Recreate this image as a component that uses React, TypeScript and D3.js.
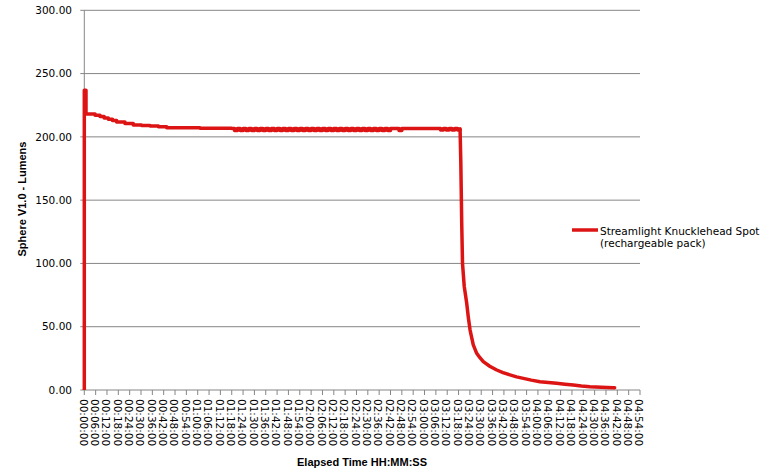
import React from "react";
import * as d3 from "d3";

// Output over elapsed time (minutes) for one light
const elapsedMin: number[] = [
  0, 0, 0.9, 5.7, 8.3, 10.5, 12.7, 14.9, 17.1, 21.5, 25.9, 30.3, 34.8, 39.2, 43.6, 61.2,
  78, 79.5, 81, 82.5, 84, 85.5, 87, 88.5, 90, 91.5, 93, 94.5, 96, 97.5, 99, 100.5,
  102, 103.5, 105, 106.5, 108, 109.5, 111, 112.5, 114, 115.5, 117, 118.5, 120, 121.5,
  123, 124.5, 126, 127.5, 129, 130.5, 132, 133.5, 135, 136.5, 138, 139.5, 141, 142.5,
  144, 145.5, 147, 148.5, 150, 151.5, 153, 154.5, 156, 157.5, 159, 160.5, 162,
  165, 166.5, 168, 180, 187, 188.5, 190, 191.5, 193, 194.5, 196, 197.5,
  198.8, 199.2, 199.7, 200.1, 201.0, 202.3, 203.2, 204.1, 205.8, 207.6,
  209.3, 211.1, 214.5, 218.2, 221.5, 225.2, 228.7, 232.3, 236.5, 241.1,
  245.5, 249.9, 254.3, 258.7, 263.0, 267.5, 273.5, 279.9, 280.6,
];
const lumens: number[] = [
  0, 236.9, 218, 217, 216, 215, 214, 213, 211.7, 210.5, 209.4, 209.0, 208.6, 208.0, 207.2, 206.9,
  206.6, 205.0, 206.6, 205.0, 206.6, 205.0, 206.6, 205.0, 206.6, 205.0, 206.6, 205.0, 206.6, 205.0, 206.6, 205.0,
  206.6, 205.0, 206.6, 205.0, 206.6, 205.0, 206.6, 205.0, 206.6, 205.0, 206.6, 205.0, 206.6, 205.0,
  206.6, 205.0, 206.6, 205.0, 206.6, 205.0, 206.6, 205.0, 206.6, 205.0, 206.6, 205.0, 206.6, 205.0,
  206.6, 205.0, 206.6, 205.0, 206.6, 205.0, 206.6, 205.0, 206.6, 205.0, 206.6, 205.0, 206.6,
  206.6, 205.0, 206.6, 206.6, 206.6, 205.4, 206.6, 205.4, 206.6, 205.4, 206.6, 205.4,
  206.5, 180, 130, 100, 82, 68.7, 57, 47.4, 35.6, 29.0,
  25.5, 22.4, 18.8, 15.8, 13.8, 11.9, 10.4, 9.2, 7.8, 6.5,
  6.0, 5.3, 4.6, 3.95, 3.2, 2.6, 2.2, 1.8, 1.8,
];
// The regulated phase logs quantised readings; after this point output decays continuously
const dropStartMin = 198.8;

const yTicks: number[] = [0, 50, 100, 150, 200, 250, 300];
// Category ticks every 6 minutes from 00:00:00 to 04:54:00
const xTickMinutes: number[] = d3.range(0, 295, 6);
const xTickLabels: string[] = xTickMinutes.map((m) => {
  const h = Math.floor(m / 60);
  const mm = m % 60;
  return `${String(h).padStart(2, "0")}:${String(mm).padStart(2, "0")}:00`;
});

const seriesName1 = "Streamlight Knucklehead Spot";
const seriesName2 = "(rechargeable pack)";
const xTitle = "Elapsed Time HH:MM:SS";
const yTitle = "Sphere V1.0 - Lumens";

const W = 770;
const H = 474;
const plot = { left: 84.3, right: 640, top: 10.3, bottom: 390 };
const gridColor = "#868686";
const lineColor = "#dc1414";
const tickFont = "'DejaVu Sans', sans-serif";
const titleFont = "'Liberation Sans', Arial, sans-serif";

export default function App() {
  const x = d3.scaleLinear().domain([0, 294]).range([plot.left, plot.right]);
  const y = d3.scaleLinear().domain([0, 300]).range([plot.bottom, plot.top]);

  const points: [number, number][] = elapsedMin.map((t, i) => [t, lumens[i]]);
  const plateau = points.filter((d) => d[0] <= dropStartMin);
  const decay = points.filter((d) => d[0] >= dropStartMin);

  const stepLine = d3
    .line<[number, number]>()
    .x((d) => x(d[0]))
    .y((d) => y(d[1]))
    .curve(d3.curveStepAfter);
  const smoothLine = d3
    .line<[number, number]>()
    .x((d) => x(d[0]))
    .y((d) => y(d[1]));

  return (
    <svg
      width={W}
      height={H}
      style={{ position: "absolute", left: 0, top: 0, background: "#fff" }}
    >
      {/* horizontal gridlines and y labels */}
      {yTicks.map((v) => (
        <g key={v}>
          <line
            x1={plot.left - 4}
            x2={plot.right}
            y1={y(v)}
            y2={y(v)}
            stroke={gridColor}
            strokeWidth={1}
          />
          <text
            x={72}
            y={y(v)}
            dy="0.36em"
            textAnchor="end"
            fontFamily={tickFont}
            fontSize={10.5}
            fill="#000"
          >
            {v.toFixed(2)}
          </text>
        </g>
      ))}

      {/* y axis line */}
      <line
        x1={plot.left}
        x2={plot.left}
        y1={plot.top}
        y2={plot.bottom}
        stroke={gridColor}
        strokeWidth={1}
      />

      {/* x axis ticks and rotated labels */}
      {xTickMinutes.map((m, i) => (
        <g key={m}>
          <line
            x1={x(m)}
            x2={x(m)}
            y1={plot.bottom}
            y2={plot.bottom + 5}
            stroke={gridColor}
            strokeWidth={1}
          />
          <text
            transform={`translate(${x(m) - 1},${plot.bottom + 9}) rotate(90)`}
            dy="0.36em"
            textAnchor="start"
            fontFamily={tickFont}
            fontSize={10.5}
            fill="#000"
          >
            {xTickLabels[i]}
          </text>
        </g>
      ))}

      {/* data line */}
      <path
        d={stepLine(plateau) ?? ""}
        fill="none"
        stroke={lineColor}
        strokeWidth={3.5}
        strokeLinejoin="round"
        strokeLinecap="butt"
      />
      <path
        d={smoothLine(decay) ?? ""}
        fill="none"
        stroke={lineColor}
        strokeWidth={3.5}
        strokeLinejoin="round"
        strokeLinecap="round"
      />

      {/* axis titles */}
      <text
        x={362}
        y={465.5}
        textAnchor="middle"
        fontFamily={titleFont}
        fontWeight="bold"
        fontSize={11}
        fill="#000"
      >
        {xTitle}
      </text>
      <text
        transform={`translate(25.7,199) rotate(-90)`}
        textAnchor="middle"
        fontFamily={titleFont}
        fontWeight="bold"
        fontSize={11}
        fill="#000"
      >
        {yTitle}
      </text>

      {/* legend */}
      <line x1={572} x2={598} y1={230} y2={230} stroke={lineColor} strokeWidth={3.5} />
      <text x={600} y={234.5} fontFamily={tickFont} fontSize={10.5} fill="#000">
        {seriesName1}
      </text>
      <text x={600} y={246.5} fontFamily={tickFont} fontSize={10.5} fill="#000">
        {seriesName2}
      </text>
    </svg>
  );
}
